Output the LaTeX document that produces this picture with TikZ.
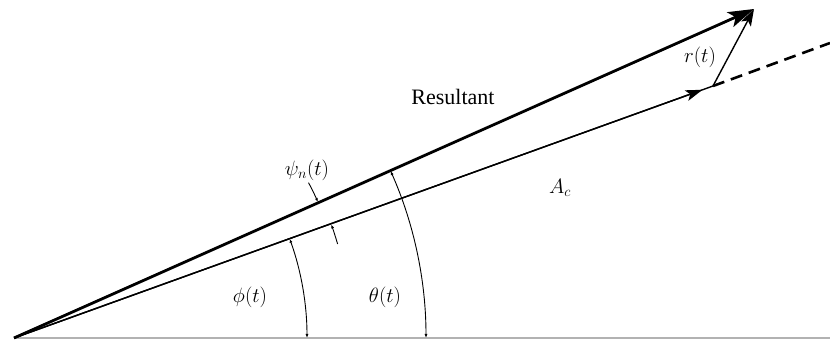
\documentclass[tikz,border=0pt]{standalone}
\usepackage{fontspec}
\setmainfont{Liberation Serif}
\usetikzlibrary{arrows.meta,calc}
\begin{document}
\begin{tikzpicture}[x=1pt,y=1pt,
  lbl/.style={font=\fontsize{22}{26}\selectfont, inner sep=1pt},
  vecthick/.style={line width=2.8pt,-{Stealth[length=26pt,width=16pt,inset=6pt]}},
  vecthin/.style={line width=1.4pt},
  angarc/.style={line width=0.9pt,{Latex[length=4pt,width=3pt]}-{Latex[length=4pt,width=3pt]}},
  psitick/.style={line width=0.9pt,-{Latex[length=4pt,width=3pt]}}]
\useasboundingbox (0,0) rectangle (830,340);
% baseline
\draw[line width=2.8pt, gray!60] (14,2) -- (830,2);
% key points
\coordinate (O) at (14,2);
\coordinate (R) at (754,331);
\coordinate (P) at (713,254);
\coordinate (D) at (830,297);
% A_c vector
\draw[vecthin] (O) -- (P);
\draw[vecthin,-{Stealth[length=17pt,width=11pt,inset=4pt]}] (O) -- ($(O)!0.985!(P)$);
% dashed extension
\draw[line width=2.6pt, dash pattern=on 12pt off 7pt] (P) -- (D);
% r(t)
\draw[vecthin,-{Stealth[length=17pt,width=11pt,inset=4pt]}] (P) -- (R);
% resultant
\draw[vecthick] (O) -- (R);
% angle arcs
\draw[angarc] ([shift={(0:293)}]O) arc[start angle=0,end angle=19.8,radius=293];
\draw[angarc] ([shift={(0:412)}]O) arc[start angle=0,end angle=23.9,radius=412];
% psi ticks
\draw[psitick] ([shift={(27.8:333)}]O) arc[start angle=27.8,end angle=24.1,radius=333];
\draw[psitick] ([shift={(16.2:337)}]O) arc[start angle=16.2,end angle=19.7,radius=337];
% labels
\node[lbl] (res) at (453,243) {Resultant};
\node[lbl] (ac) at (560,152) {$A_c$};
\node[lbl] (rt) at (700,283) {$r(t)$};
\node[lbl] (psi) at (307,170) {$\psi_n(t)$};
\node[lbl] (phi) at (250,43) {$\phi(t)$};
\node[lbl] (th) at (385,43) {$\theta(t)$};
\end{tikzpicture}
\end{document}
